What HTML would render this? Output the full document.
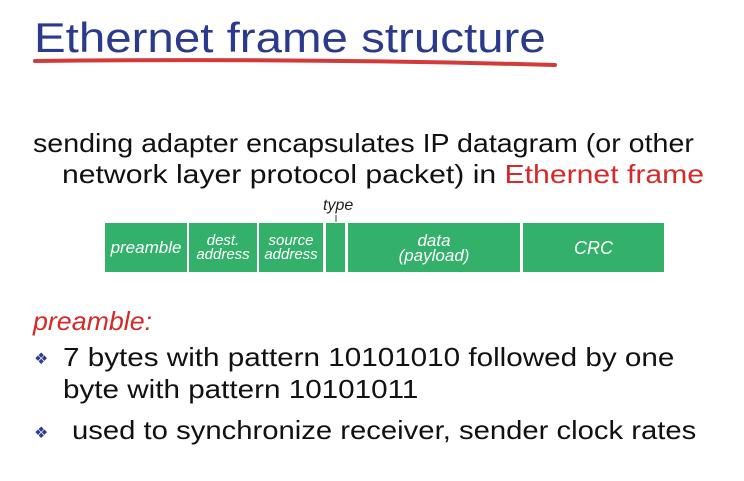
<!DOCTYPE html>
<html><head><style>
body{margin:0;width:744px;height:481px;background:#fff;position:relative;overflow:hidden;font-family:"Liberation Sans",sans-serif}
.t{position:absolute;white-space:nowrap;transform-origin:0 0}
.b{position:absolute;top:223px;height:49px;background:#33b06a;color:#fff;font-style:italic;font-size:15px;text-align:center;display:flex;align-items:center;justify-content:center;line-height:14px}
.tx{font-size:26px;color:#111}
.dm{color:#2c3e8c;font-size:16px}
</style></head><body>
<div class="t" style="left:34px;top:14px;font-size:42px;color:#2b3a8c;transform:scaleX(1.13)">Ethernet frame structure</div>
<svg style="position:absolute;left:0;top:0" width="744" height="481"><path d="M35 61 Q300 58 555 65" stroke="#d43a3a" stroke-width="4" fill="none" stroke-linecap="round"/><line x1="336" y1="215" x2="336" y2="222" stroke="#444"/></svg>
<div class="t tx" style="left:33px;top:128px;transform:scaleX(1.10)">sending adapter encapsulates IP datagram (or other</div>
<div class="t tx" style="left:62px;top:159px;transform:scaleX(1.16)">network layer protocol packet) in <span style="color:#d42a2a">Ethernet frame</span></div>
<div class="t" style="left:323px;top:197px;font-size:16px;font-style:italic;color:#222">type</div>
<div class="b" style="left:105px;width:82px;font-size:17px">preamble</div>
<div class="b" style="left:189px;width:68px;font-size:15px">dest.<br>address</div>
<div class="b" style="left:259px;width:64px;font-size:15px">source<br>address</div>
<div class="b" style="left:326px;width:19px"></div>
<div class="b" style="left:348px;width:172px;font-size:17px;line-height:15px">data<br>(payload)</div>
<div class="b" style="left:523px;width:141px;font-size:18px">CRC</div>
<div class="t" style="left:33px;top:306px;font-size:26px;font-style:italic;color:#d42a2a;transform:scaleX(1.03)">preamble:</div>
<div class="t dm" style="left:34px;top:349px">❖</div>
<div class="t tx" style="left:63px;top:342px;transform:scaleX(1.14)">7 bytes with pattern 10101010 followed by one</div>
<div class="t tx" style="left:63px;top:374px;transform:scaleX(1.14)">byte with pattern 10101011</div>
<div class="t dm" style="left:34px;top:423px">❖</div>
<div class="t tx" style="left:72px;top:415px;transform:scaleX(1.125)">used to synchronize receiver, sender clock rates</div>
</body></html>
